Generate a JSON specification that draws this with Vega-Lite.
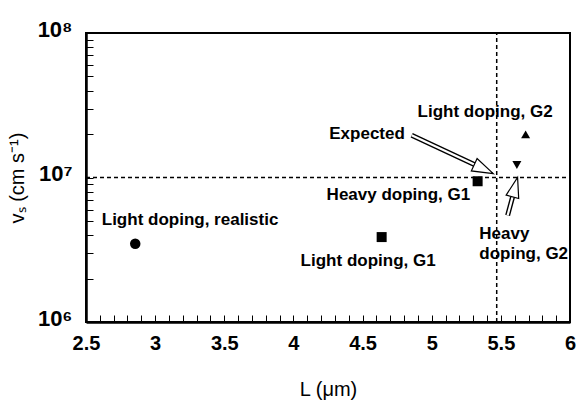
{
  "$schema": "https://vega.github.io/schema/vega-lite/v6.json",
  "width": 484,
  "height": 289,
  "autosize": {"type": "none"},
  "padding": {"left": 86, "top": 33, "right": 7, "bottom": 79},
  "background": "white",
  "config": {
    "view": {"stroke": "black", "strokeWidth": 2},
    "font": "Liberation Sans",
    "axis": {"grid": false, "zindex": 1, "domainColor": "black", "domainWidth": 2.5, "tickColor": "black", "tickWidth": 1, "labelColor": "black", "titleColor": "black", "labelOverlap": false, "labelFlush": false}
  },
  "datasets": {
    "points": [
      {"label": "Light doping, realistic", "group": "realistic", "x": 2.856, "y": 3480000},
      {"label": "Light doping, G1", "group": "lightG1", "x": 4.638, "y": 3870000},
      {"label": "Heavy doping, G1", "group": "heavyG1", "x": 5.332, "y": 9420000},
      {"label": "Heavy doping, G2", "group": "heavyG2", "x": 5.616, "y": 12200000},
      {"label": "Light doping, G2", "group": "lightG2", "x": 5.679, "y": 19900000}
    ],
    "guides": [
      {"x": 2.5, "y": 10000000, "x2": 6, "y2": 10000000},
      {"x": 5.47, "y": 1000000, "x2": 5.47, "y2": 100000000}
    ],
    "shafts": [
      {"name": "Expected", "x": 4.855, "y": 19600000, "x2": 5.308, "y2": 12300000},
      {"name": "Heavy doping, G2", "x": 5.549, "y": 5470000, "x2": 5.585, "y2": 7350000}
    ],
    "tips": [
      {"name": "Expected", "x": 5.445, "y": 10640000},
      {"name": "Heavy doping, G2", "x": 5.621, "y": 10000000}
    ],
    "labels": [
      {"text": "Light doping, realistic", "x": 2.614, "y": 4670000},
      {"text": "Light doping, G1", "x": 4.052, "y": 2440000},
      {"text": "Heavy doping, G1", "x": 4.24, "y": 7030000},
      {"text": "Expected", "x": 4.259, "y": 18600000},
      {"text": "Light doping, G2", "x": 4.898, "y": 26300000},
      {"text": "Heavy\ndoping, G2", "x": 5.344, "y": 3770000}
    ]
  },
  "encoding": {
    "x": {
      "field": "x", "type": "quantitative",
      "scale": {"type": "linear", "domain": [2.5, 6], "nice": false, "zero": false},
      "axis": {
        "zindex": 1,
        "title": "L (μm)", "titleFontSize": 20, "titleFontWeight": "normal", "titlePadding": 26,
        "values": [2.5, 2.6, 2.7, 2.8, 2.9, 3, 3.1, 3.2, 3.3, 3.4, 3.5, 3.6, 3.7, 3.8, 3.9, 4, 4.1, 4.2, 4.3, 4.4, 4.5, 4.6, 4.7, 4.8, 4.9, 5, 5.1, 5.2, 5.3, 5.4, 5.5, 5.6, 5.7, 5.8, 5.9, 6],
        "labelExpr": "abs(datum.value*2 - round(datum.value*2)) < 0.001 ? format(datum.value, '~g') : ''",
        "labelFontSize": 20, "labelFontWeight": "bold", "labelPadding": 18,
        "tickSize": -7
      }
    },
    "y": {
      "field": "y", "type": "quantitative",
      "scale": {"type": "log", "domain": [1000000, 100000000], "nice": false},
      "axis": {
        "zindex": 1,
        "title": "vₛ (cm s⁻¹)", "titleFontSize": 20, "titleFontWeight": "normal", "titlePadding": 10,
        "values": [1000000, 2000000, 3000000, 4000000, 5000000, 6000000, 7000000, 8000000, 9000000, 10000000, 20000000, 30000000, 40000000, 50000000, 60000000, 70000000, 80000000, 90000000, 100000000],
        "labelExpr": "datum.value == 1000000 ? '10⁶' : datum.value == 10000000 ? '10⁷' : datum.value == 100000000 ? '10⁸' : ''",
        "labelFontSize": 22, "labelFontWeight": "bold", "labelPadding": 21, "labelOffset": -4,
        "tickSize": -7
      }
    }
  },
  "layer": [
    {
      "data": {"name": "guides"},
      "mark": {"type": "rule", "color": "black", "strokeWidth": 1.5, "strokeDash": [4, 3]},
      "encoding": {
        "x2": {"field": "x2"},
        "y2": {"field": "y2"}
      }
    },
    {
      "data": {"name": "points"},
      "mark": {"type": "point", "filled": true, "color": "black", "opacity": 1},
      "encoding": {
        "shape": {"field": "group", "type": "nominal", "scale": {"domain": ["realistic", "lightG1", "heavyG1", "heavyG2", "lightG2"], "range": ["circle", "square", "square", "triangle-down", "triangle-up"]}, "legend": null},
        "size": {"field": "group", "type": "nominal", "scale": {"type": "ordinal", "domain": ["realistic", "lightG1", "heavyG1", "heavyG2", "lightG2"], "range": [110, 100, 100, 81, 81]}, "legend": null}
      }
    },
    {
      "data": {"name": "shafts"},
      "mark": {"type": "rule", "color": "black", "strokeWidth": 5, "strokeCap": "butt"},
      "encoding": {
        "x2": {"field": "x2"},
        "y2": {"field": "y2"}
      }
    },
    {
      "data": {"name": "shafts"},
      "mark": {"type": "rule", "color": "white", "strokeWidth": 2.2, "strokeCap": "butt"},
      "encoding": {
        "x2": {"field": "x2"},
        "y2": {"field": "y2"}
      }
    },
    {
      "data": {"name": "tips"},
      "transform": [{"filter": "datum.name == 'Expected'"}],
      "mark": {"type": "point", "shape": "M0,0L0.65,2L-0.65,2Z", "size": 441, "filled": true, "fill": "white", "stroke": "black", "strokeWidth": 1.2, "opacity": 1, "angle": 115}
    },
    {
      "data": {"name": "tips"},
      "transform": [{"filter": "datum.name == 'Heavy doping, G2'"}],
      "mark": {"type": "point", "shape": "M0,0L0.65,2L-0.65,2Z", "size": 400, "filled": true, "fill": "white", "stroke": "black", "strokeWidth": 1.2, "opacity": 1, "angle": 15}
    },
    {
      "data": {"name": "labels"},
      "mark": {"type": "text", "align": "left", "baseline": "alphabetic", "fontSize": 17, "fontWeight": "bold", "font": "Liberation Sans", "color": "black", "lineBreak": "\n", "lineHeight": 20},
      "encoding": {
        "text": {"field": "text", "type": "nominal"}
      }
    }
  ]
}
